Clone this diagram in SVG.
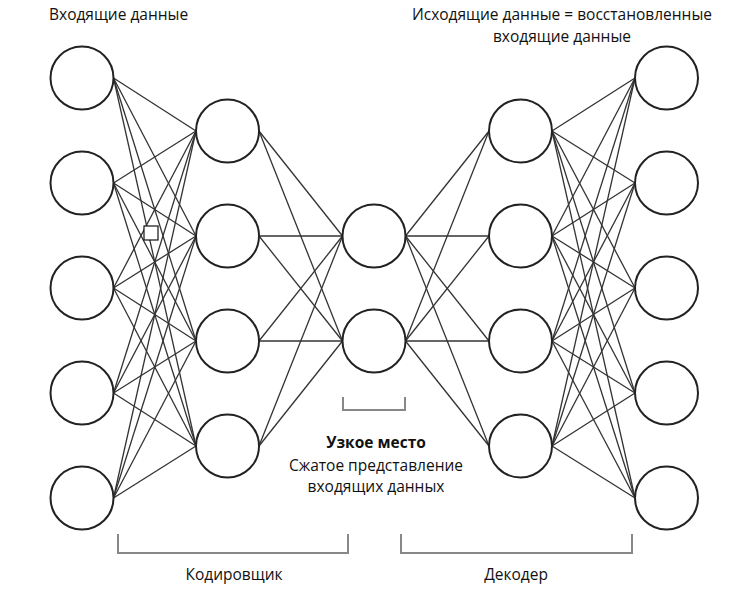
<svg xmlns="http://www.w3.org/2000/svg" width="750" height="590" viewBox="0 0 750 590">
<style>
.node{fill:#fff;stroke:#222;stroke-width:2}
.c line{stroke:#333;stroke-width:1.3}
.br{fill:none;stroke:#888;stroke-width:2}
text{font-family:"Open Sans","Liberation Sans",sans-serif;font-size:15.5px;fill:#111}
.b{font-weight:bold}
</style>
<rect width="750" height="590" fill="#fff"/>
<g id="connectors" class="c">
<line x1="113.5" y1="78" x2="196" y2="131"/><line x1="113.5" y1="78" x2="196" y2="236"/><line x1="113.5" y1="78" x2="196" y2="341"/><line x1="113.5" y1="78" x2="196" y2="446"/>
<line x1="113.5" y1="183" x2="196" y2="131"/><line x1="113.5" y1="183" x2="196" y2="236"/><line x1="113.5" y1="183" x2="196" y2="341"/><line x1="113.5" y1="183" x2="196" y2="446"/>
<line x1="113.5" y1="288" x2="196" y2="131"/><line x1="113.5" y1="288" x2="196" y2="236"/><line x1="113.5" y1="288" x2="196" y2="341"/><line x1="113.5" y1="288" x2="196" y2="446"/>
<line x1="113.5" y1="393" x2="196" y2="131"/><line x1="113.5" y1="393" x2="196" y2="236"/><line x1="113.5" y1="393" x2="196" y2="341"/><line x1="113.5" y1="393" x2="196" y2="446"/>
<line x1="113.5" y1="498" x2="196" y2="131"/><line x1="113.5" y1="498" x2="196" y2="236"/><line x1="113.5" y1="498" x2="196" y2="341"/><line x1="113.5" y1="498" x2="196" y2="446"/>
<line x1="259" y1="131" x2="342.5" y2="236"/><line x1="259" y1="131" x2="342.5" y2="341"/>
<line x1="259" y1="236" x2="342.5" y2="236"/><line x1="259" y1="236" x2="342.5" y2="341"/>
<line x1="259" y1="341" x2="342.5" y2="236"/><line x1="259" y1="341" x2="342.5" y2="341"/>
<line x1="259" y1="446" x2="342.5" y2="236"/><line x1="259" y1="446" x2="342.5" y2="341"/>
<line x1="405.5" y1="236" x2="489" y2="131"/><line x1="405.5" y1="236" x2="489" y2="236"/><line x1="405.5" y1="236" x2="489" y2="341"/><line x1="405.5" y1="236" x2="489" y2="446"/>
<line x1="405.5" y1="341" x2="489" y2="131"/><line x1="405.5" y1="341" x2="489" y2="236"/><line x1="405.5" y1="341" x2="489" y2="341"/><line x1="405.5" y1="341" x2="489" y2="446"/>
<line x1="552" y1="131" x2="635" y2="78"/><line x1="552" y1="131" x2="635" y2="183"/><line x1="552" y1="131" x2="635" y2="288"/><line x1="552" y1="131" x2="635" y2="393"/><line x1="552" y1="131" x2="635" y2="498"/>
<line x1="552" y1="236" x2="635" y2="78"/><line x1="552" y1="236" x2="635" y2="183"/><line x1="552" y1="236" x2="635" y2="288"/><line x1="552" y1="236" x2="635" y2="393"/><line x1="552" y1="236" x2="635" y2="498"/>
<line x1="552" y1="341" x2="635" y2="78"/><line x1="552" y1="341" x2="635" y2="183"/><line x1="552" y1="341" x2="635" y2="288"/><line x1="552" y1="341" x2="635" y2="393"/><line x1="552" y1="341" x2="635" y2="498"/>
<line x1="552" y1="446" x2="635" y2="78"/><line x1="552" y1="446" x2="635" y2="183"/><line x1="552" y1="446" x2="635" y2="288"/><line x1="552" y1="446" x2="635" y2="393"/><line x1="552" y1="446" x2="635" y2="498"/>
</g>
<g id="input-layer">
<circle class="node" cx="82" cy="78" r="31.5"/><circle class="node" cx="82" cy="183" r="31.5"/><circle class="node" cx="82" cy="288" r="31.5"/><circle class="node" cx="82" cy="393" r="31.5"/><circle class="node" cx="82" cy="498" r="31.5"/>
</g>
<g id="encoder-layer">
<circle class="node" cx="227.5" cy="131" r="31.5"/><circle class="node" cx="227.5" cy="236" r="31.5"/><circle class="node" cx="227.5" cy="341" r="31.5"/><circle class="node" cx="227.5" cy="446" r="31.5"/>
</g>
<g id="bottleneck-layer">
<circle class="node" cx="374" cy="236" r="31.5"/><circle class="node" cx="374" cy="341" r="31.5"/>
</g>
<g id="decoder-layer">
<circle class="node" cx="520.5" cy="131" r="31.5"/><circle class="node" cx="520.5" cy="236" r="31.5"/><circle class="node" cx="520.5" cy="341" r="31.5"/><circle class="node" cx="520.5" cy="446" r="31.5"/>
</g>
<g id="output-layer">
<circle class="node" cx="666.5" cy="78" r="31.5"/><circle class="node" cx="666.5" cy="183" r="31.5"/><circle class="node" cx="666.5" cy="288" r="31.5"/><circle class="node" cx="666.5" cy="393" r="31.5"/><circle class="node" cx="666.5" cy="498" r="31.5"/>
</g>
<rect x="144" y="226" width="14" height="14" fill="#fff" stroke="#111" stroke-width="1.2"/>
<g id="brackets">
<path class="br" d="M343,397 V410 H405 V397"/>
<path class="br" d="M118,534 V553 H348 V534"/>
<path class="br" d="M401,534 V553 H632 V534"/>
</g>
<g id="labels">
<text x="49" y="20">Входящие данные</text>
<text x="562" y="20" text-anchor="middle">Исходящие данные = восстановленные</text>
<text x="562" y="42" text-anchor="middle">входящие данные</text>
<text x="376" y="448" text-anchor="middle" class="b">Узкое место</text>
<text x="376" y="471" text-anchor="middle">Сжатое представление</text>
<text x="376" y="492" text-anchor="middle">входящих данных</text>
<text x="234" y="580" text-anchor="middle">Кодировщик</text>
<text x="516" y="580" text-anchor="middle">Декодер</text>
</g>
</svg>
